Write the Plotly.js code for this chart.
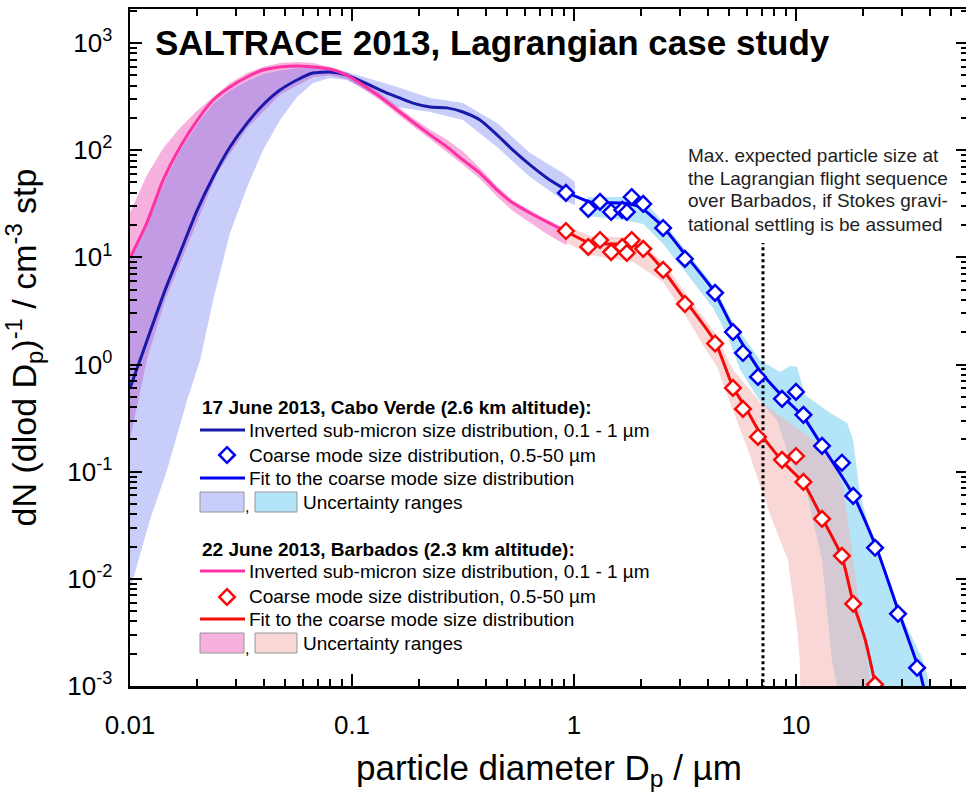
<!DOCTYPE html>
<html>
<head>
<meta charset="utf-8">
<script src="https://cdn.plot.ly/plotly-3.0.1.min.js"></script>
<style>
html, body { margin: 0; padding: 0; overflow: hidden; background: #fff; }
#chart { width: 970px; height: 792px; }
</style>
</head>
<body>
<div id="chart"></div>
<script>
// ---------------- data ----------------
// 17 June 2013, Cabo Verde: inverted sub-micron size distribution
const cvSubX = [0.01, 0.0111, 0.0144, 0.0168, 0.0201, 0.0237, 0.0282, 0.0337, 0.0397, 0.0474, 0.0565, 0.0667, 0.0796, 0.0949, 0.112, 0.134, 0.160, 0.188, 0.225, 0.268, 0.316, 0.377, 0.450, 0.531, 0.634, 0.755, 0.891];
const cvSubY = [0.6, 1.1, 4.97, 11.0, 27.7, 56.2, 107, 179, 264, 364, 452, 525, 536, 502, 433, 364, 313, 275, 253, 248, 227, 191, 139, 100, 72.8, 55.1, 44.4];
// 22 June 2013, Barbados: inverted sub-micron size distribution
const bbSubX = [0.01, 0.0119, 0.0141, 0.0168, 0.0201, 0.0237, 0.0282, 0.0337, 0.0397, 0.0474, 0.0565, 0.0667, 0.0796, 0.0949, 0.112, 0.134, 0.160, 0.188, 0.225, 0.268, 0.316, 0.377, 0.450, 0.531, 0.634, 0.755, 0.891];
const bbSubY = [9.9, 20.9, 52.7, 107, 191, 294, 389, 482, 560, 597, 610, 597, 571, 502, 405, 313, 237, 183, 139, 107, 81.1, 61.2, 42.6, 32.1, 25.9, 21.4, 18.0];

// coarse mode size distribution (diamonds)
const coarseX = [0.92, 1.16, 1.31, 1.47, 1.65, 1.73, 1.82, 2.05, 2.52, 3.16, 4.32, 5.2, 5.77, 6.74, 8.65, 10.0, 10.8, 13.1, 16.1, 18.1, 22.7, 28.8, 35.1];
const cvCoarseY = [39.9, 28.3, 32.9, 26.5, 27.7, 26.5, 36.6, 31.5, 18.8, 9.66, 4.66, 2.01, 1.28, 0.766, 0.478, 0.555, 0.339, 0.174, 0.121, 0.0594, 0.0195, 0.00472, 0.00148];
const bbCoarseY = [17.6, 12.5, 14.5, 11.2, 12.5, 11.0, 14.5, 12.0, 7.63, 3.67, 1.57, 0.605, 0.385, 0.211, 0.129, 0.140, 0.0803, 0.0363, 0.0164, 0.00585, 0.00103];

// fits to the coarse mode size distribution
const cvFitX = [0.891, 0.929, 1.18, 1.66, 1.98, 2.52, 3.23, 4.23, 5.20, 6.88, 8.74, 10.8, 13.2, 18.1, 23.2, 28.8, 36.2, 37.8];
const cvFitY = [44.4, 40.7, 32.9, 32.1, 29.5, 19.2, 10.1, 4.97, 2.19, 0.871, 0.499, 0.324, 0.170, 0.0608, 0.0187, 0.00514, 0.00133, 0.00092];
const bbFitX = [0.891, 0.929, 1.18, 1.85, 2.13, 2.52, 3.23, 4.32, 5.20, 6.01, 6.88, 8.74, 10.8, 13.1, 16.1, 18.1, 20.5, 22.7, 23.4];
const bbFitY = [18.0, 17.3, 13.6, 13.1, 11.2, 7.62, 3.76, 1.63, 0.618, 0.377, 0.230, 0.123, 0.0787, 0.0371, 0.0160, 0.00597, 0.0027, 0.00107, 0.00083];

// uncertainty ranges: Cabo Verde sub-micron
const cvSubUpX = [0.01, 0.0119, 0.0141, 0.0168, 0.0201, 0.0237, 0.0282, 0.0337, 0.0397, 0.0474, 0.0565, 0.0667, 0.0796, 0.0949, 0.160, 0.225, 0.316, 0.450, 0.634, 0.891, 1.01];
const cvSubUpY = [9.5, 19.5, 48, 98, 175, 270, 360, 440, 510, 555, 580, 590, 580, 536, 389, 307, 275, 179, 94.2, 61.2, 50.5];
const cvSubLoX = [0.01, 0.0123, 0.0147, 0.0181, 0.0207, 0.0237, 0.0282, 0.0337, 0.0397, 0.0474, 0.0565, 0.0667, 0.0796, 0.0949, 0.160, 0.225, 0.316, 0.450, 0.634, 0.891, 1.01];
const cvSubLoY = [0.0079, 0.0355, 0.104, 0.468, 1.10, 4.01, 16.9, 45.4, 100, 191, 313, 424, 472, 452, 253, 227, 191, 107, 56.2, 34.3, 30.8];
// uncertainty ranges: Barbados sub-micron
const bbSubUpX = [0.01, 0.0119, 0.0141, 0.0168, 0.0201, 0.0237, 0.0282, 0.0337, 0.0397, 0.0474, 0.0565, 0.0667, 0.0796, 0.0949, 0.112, 0.134, 0.160, 0.188, 0.225, 0.268, 0.316, 0.377, 0.450, 0.531, 0.634, 0.755, 0.891, 0.93];
const bbSubUpY = [26, 58, 104, 162, 235, 313, 424, 525, 597, 650, 665, 650, 597, 530, 440, 340, 258, 200, 155, 125, 97, 68, 46, 34, 27.5, 22.5, 19, 18];
const bbSubLoX = [0.01, 0.0119, 0.0144, 0.0156, 0.0186, 0.0247, 0.0337, 0.0474, 0.0667, 0.0796, 0.0949, 0.112, 0.134, 0.160, 0.188, 0.225, 0.268, 0.316, 0.377, 0.450, 0.531, 0.634, 0.755, 0.891, 0.93];
const bbSubLoY = [0.2, 1.1, 4.0, 6.15, 14.5, 61.2, 160, 330, 480, 500, 460, 375, 290, 218, 167, 127, 96, 73, 54, 37, 27, 21, 16.5, 13.5, 13];
// uncertainty ranges: Cabo Verde coarse
const cvCoUpX = [1.156, 1.664, 2.05, 2.52, 3.23, 4.23, 5.20, 6.88, 8.47, 9.40, 10.1, 11.0, 14.2, 17.0, 18.07, 19.4, 22.2, 26.5, 31.6, 37.3, 40.2, 41.9];
const cvCoUpY = [36.6, 36.6, 34.3, 21.4, 11.2, 5.53, 2.49, 1.10, 0.853, 0.970, 0.951, 0.520, 0.354, 0.285, 0.198, 0.0634, 0.0217, 0.0084, 0.00356, 0.00175, 0.001, 0.0006];
const cvCoLoX = [1.156, 1.664, 2.05, 2.52, 3.23, 4.23, 4.89, 5.60, 6.67, 8.2, 9.40, 11.2, 11.9, 13.1, 14.5, 15.3, 15.6];
const cvCoLoY = [24.3, 22.3, 20.5, 13.3, 7.0, 3.37, 1.89, 0.891, 0.499, 0.304, 0.129, 0.0634, 0.0355, 0.0150, 0.00175, 0.001, 0.0006];
// uncertainty ranges: Barbados coarse
const bbCoUpX = [0.929, 1.18, 1.845, 2.52, 3.23, 4.32, 5.20, 6.88, 10.4, 14.2, 16.3, 18.07, 19.8, 20.9, 21.8, 22.4];
const bbCoUpY = [19.6, 15.8, 15.2, 9.06, 4.46, 1.97, 0.891, 0.45, 0.245, 0.150, 0.0721, 0.01503, 0.00415, 0.00175, 0.001, 0.0006];
const bbCoLoX = [0.929, 1.18, 1.845, 2.52, 3.23, 3.81, 4.41, 5.05, 6.01, 6.88, 7.80, 9.2, 10.1, 10.4, 10.5];
const bbCoLoY = [13.6, 10.5, 9.06, 5.89, 2.72, 1.52, 0.951, 0.438, 0.170, 0.0753, 0.0355, 0.0150, 0.0035, 0.00175, 0.0006];

// max. expected particle size (Stokes settling)
const maxSizeX = [7.1, 7.1];
const maxSizeY = [0.0005, 13.6];

// tick labels
const xTickVals = [0.01, 0.1, 1, 10];
const xTickText = ['0.01', '0.1', '1', '10'];
const yTickVals = [0.001, 0.01, 0.1, 1, 10, 100, 1000];
const yTickText = ['10<sup>-3</sup>', '10<sup>-2</sup>', '10<sup>-1</sup>', '10<sup>0</sup>', '10<sup>1</sup>', '10<sup>2</sup>', '10<sup>3</sup>'];

// ---------------- layout helpers ----------------
const FONT = 'Liberation Sans, Arial, Helvetica, sans-serif';
const PL = 130, PR = 968, PT = 9, PB = 686;          // plot-area pixel box
const px = v => (v - PL) / (PR - PL);                // pixel -> paper x
const py = v => (PB - v) / (PB - PT);                // pixel -> paper y

function band(upX, upY, loX, loY) {
  return { x: upX.concat(loX.slice().reverse()), y: upY.concat(loY.slice().reverse()) };
}
function minorVals(lo, hi) {
  const out = [];
  for (let e = lo; e <= hi; e++) for (let m = 2; m <= 9; m++) out.push(m * Math.pow(10, e));
  return out;
}

const COL = {
  navy: 'rgb(25,25,170)', blue: 'rgb(0,0,240)', pink: 'rgb(255,50,165)', red: 'rgb(245,10,10)',
  lav: 'rgba(98,112,241,0.35)', sky: 'rgb(180,228,247)', pinkBand: 'rgba(240,100,190,0.5)', salmon: 'rgba(245,175,175,0.5)',
  lavSw: 'rgb(200,205,250)', skySw: 'rgb(180,228,247)', pinkSw: 'rgb(247,177,222)', salmonSw: 'rgb(250,215,215)'
};

const bSky = band(cvCoUpX, cvCoUpY, cvCoLoX, cvCoLoY);
const bSalmon = band(bbCoUpX, bbCoUpY, bbCoLoX, bbCoLoY);
const bPink = band(bbSubUpX, bbSubUpY, bbSubLoX, bbSubLoY);
const bLav = band(cvSubUpX, cvSubUpY, cvSubLoX, cvSubLoY);

const fillTrace = (b, c) => ({ x: b.x, y: b.y, type: 'scatter', mode: 'lines', fill: 'toself', fillcolor: c, line: { width: 0 }, hoverinfo: 'skip', showlegend: false });
const lineTrace = (x, y, c) => ({ x, y, type: 'scatter', mode: 'lines', line: { color: c, width: 3, shape: 'spline', smoothing: 0.6 }, showlegend: false });
const diamondTrace = (x, y, c) => ({ x, y, type: 'scatter', mode: 'markers', marker: { symbol: 'diamond', size: 12, color: 'white', line: { color: c, width: 2.5 } }, showlegend: false });

const traces = [
  fillTrace(bSky, COL.sky),
  fillTrace(bSalmon, COL.salmon),
  fillTrace(bPink, COL.pinkBand),
  fillTrace(bLav, COL.lav),
  { x: maxSizeX, y: maxSizeY, type: 'scatter', mode: 'lines', line: { color: 'black', width: 3, dash: '3px,3px' }, showlegend: false },
  lineTrace(cvSubX, cvSubY, COL.navy),
  lineTrace(bbSubX, bbSubY, COL.pink),
  lineTrace(cvFitX, cvFitY, COL.blue),
  lineTrace(bbFitX, bbFitY, COL.red),
  diamondTrace(coarseX, cvCoarseY, COL.blue),
  diamondTrace(coarseX.slice(0, bbCoarseY.length), bbCoarseY, COL.red),
  // legend diamonds (on a hidden 0..1 overlay axis matching the plot area)
  { x: [px(227), px(227)], y: [py(455), py(597)], xaxis: 'x2', yaxis: 'y2', type: 'scatter', mode: 'markers',
    marker: { symbol: 'diamond', size: 12, color: 'white', line: { color: [COL.blue, COL.red], width: 2.5 } }, showlegend: false, hoverinfo: 'skip' }
];

// ---------------- manual legend ----------------
const shapes = [];
const annotations = [];
function legLine(y, c) {
  shapes.push({ type: 'line', xref: 'paper', yref: 'paper', x0: px(200), x1: px(245), y0: py(y), y1: py(y), line: { color: c, width: 3 } });
}
function legSwatch(x0, x1, y0, y1, c) {
  shapes.push({ type: 'rect', xref: 'paper', yref: 'paper', x0: px(x0), x1: px(x1), y0: py(y0), y1: py(y1), fillcolor: c, line: { color: 'rgb(150,150,150)', width: 1 } });
}
function legText(x, y, t, size, bold) {
  annotations.push({ xref: 'paper', yref: 'paper', x: px(x), y: py(y), xanchor: 'left', yanchor: 'middle', showarrow: false,
    text: bold ? '<b>' + t + '</b>' : t, font: { family: FONT, size: size, color: 'black' } });
}
const groups = [
  { y0: 408, title: '17 June 2013, Cabo Verde (2.6 km altitude):', sub: COL.navy, fit: COL.blue, sw1: COL.lavSw, sw2: COL.skySw },
  { y0: 549, title: '22 June 2013, Barbados (2.3 km altitude):', sub: COL.pink, fit: COL.red, sw1: COL.pinkSw, sw2: COL.salmonSw }
];
groups.forEach(g => {
  const y = g.y0;
  legText(200, y, g.title, 19, true);
  legLine(y + 22, g.sub);
  legText(247, y + 22, 'Inverted sub-micron size distribution, 0.1 - 1 µm', 19);
  legText(247, y + 47, 'Coarse mode size distribution, 0.5-50 µm', 19);
  legLine(y + 70, g.fit);
  legText(247, y + 70, 'Fit to the coarse mode size distribution', 19);
  legSwatch(200, 244, y + 84, y + 104, g.sw1);
  legText(243, y + 99, ',', 16);
  legSwatch(255, 297, y + 84, y + 104, g.sw2);
  legText(301, y + 94, 'Uncertainty ranges', 19);
});
// note on max expected particle size
['Max. expected particle size at', 'the Lagrangian flight sequence', 'over Barbados, if Stokes gravi-', 'tational settling is be assumed']
  .forEach((t, i) => annotations.push({ xref: 'paper', yref: 'paper', x: px(686), y: py(155 + i * 23), xanchor: 'left', yanchor: 'middle',
    showarrow: false, text: t, font: { family: FONT, size: 19, color: 'rgb(30,30,30)' } }));

const axisCommon = {
  type: 'log', showgrid: false, zeroline: false, ticks: 'inside', ticklen: 12, tickwidth: 2, tickcolor: 'black',
  showline: true, linewidth: 2.5, linecolor: 'black', mirror: 'allticks', tickmode: 'array', automargin: false,
  tickfont: { family: FONT, size: 26, color: 'black' }
};

const layout = {
  width: 970, height: 792,
  margin: { l: PL, r: 970 - PR, t: PT, b: 792 - PB },
  paper_bgcolor: 'white', plot_bgcolor: 'white',
  font: { family: FONT, color: 'black' },
  showlegend: false,
  title: { text: '<b>SALTRACE 2013, Lagrangian case study</b>', xref: 'paper', x: px(155), xanchor: 'left',
    yref: 'container', y: 1 - 43 / 792, yanchor: 'middle', font: { family: FONT, size: 35, color: 'black' } },
  xaxis: Object.assign({}, axisCommon, {
    range: [-2, -2 + (PR - PL) / 222], tickvals: xTickVals, ticktext: xTickText, ticklabelstandoff: 14,
    minor: { tickmode: 'array', tickvals: minorVals(-2, 1), ticks: 'inside', ticklen: 7, tickwidth: 2, tickcolor: 'black' },
    title: { text: 'particle diameter D<sub>p</sub> / µm', font: { family: FONT, size: 35, color: 'black' }, standoff: 22 }
  }),
  yaxis: Object.assign({}, axisCommon, {
    range: [-3, 3 + (43 - PT) / ((PB - 43) / 6)], tickvals: yTickVals, ticktext: yTickText, ticklabelstandoff: 10,
    minor: { tickmode: 'array', tickvals: minorVals(-3, 3), ticks: 'inside', ticklen: 7, tickwidth: 2, tickcolor: 'black' },
    title: { text: 'dN (dlod D<sub>p</sub>)<sup>-1</sup> / cm<sup>-3</sup> stp', font: { family: FONT, size: 34, color: 'black' }, standoff: 24 }
  }),
  xaxis2: { overlaying: 'x', range: [0, 1], visible: false, fixedrange: true },
  yaxis2: { overlaying: 'y', range: [0, 1], visible: false, fixedrange: true },
  shapes: shapes,
  annotations: annotations
};

Plotly.newPlot('chart', traces, layout, { staticPlot: true, displayModeBar: false });
</script>
</body>
</html>
